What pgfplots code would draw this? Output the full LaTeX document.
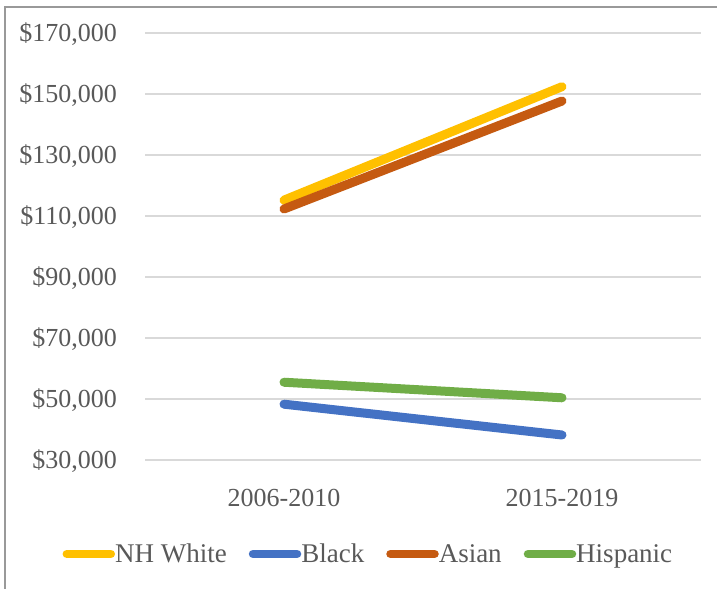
\documentclass[border=0pt]{standalone}
\usepackage{pgfplots}
\pgfplotsset{compat=1.18}
\usepackage{fontspec}
\setmainfont{Liberation Serif}
\definecolor{cw}{HTML}{FFC000}
\definecolor{cb}{HTML}{4472C4}
\definecolor{ca}{HTML}{C55A11}
\definecolor{ch}{HTML}{70AD47}
\definecolor{txt}{HTML}{595959}
\definecolor{grd}{HTML}{D9D9D9}
\begin{document}
\begin{tikzpicture}
\path[use as bounding box] (0,0) rectangle (717bp,-589bp);
\draw[color=black!40, line width=1.2bp] (5bp,-589bp) -- (5bp,-7bp) -- (717bp,-7bp);
\begin{axis}[
  at={(145bp,-460bp)}, anchor=south west,
  scale only axis, width=556bp, height=427bp,
  xmin=-0.5, xmax=1.5, ymin=30000, ymax=170000,
  axis line style={draw=none},
  ymajorgrids, grid style={color=grd, line width=1.2bp},
  major tick length=0pt,
  scaled y ticks=false,
  xtick={0,1}, xticklabels={2006-2010,2015-2019},
  ytick={30000,50000,70000,90000,110000,130000,150000,170000},
  yticklabels={{\$30,000},{\$50,000},{\$70,000},{\$90,000},{\$110,000},{\$130,000},{\$150,000},{\$170,000}},
  ticklabel style={font=\fontsize{26bp}{30bp}\selectfont, text=txt, inner sep=0pt},
  yticklabel style={anchor=base east, xshift=-28bp, yshift=-8.5bp},
  xticklabel style={anchor=base, yshift=-46.5bp},
  clip=false,
  legend columns=4,
  legend style={at={(axis description cs:0.400,-0.220)}, anchor=center, draw=none, fill=none,
    font=\fontsize{27bp}{31bp}\selectfont, text=txt,
    nodes={inner sep=0pt},
    /tikz/every odd column/.append style={column sep=0bp},
    /tikz/every even column/.append style={column sep=22bp}},
  legend image code/.code={
    \draw[#1, line width=8.5bp, line cap=round] (0bp,0bp) -- (44bp,0bp);
  },
]
\addplot[color=cw, line width=9bp, line cap=round] coordinates {(0,115200) (1,152400)};
\addlegendentry{NH White}
\addplot[color=cb, line width=9bp, line cap=round] coordinates {(0,48300) (1,38200)};
\addlegendentry{Black}
\addplot[color=ca, line width=9bp, line cap=round] coordinates {(0,112300) (1,147700)};
\addlegendentry{Asian}
\addplot[color=ch, line width=9bp, line cap=round] coordinates {(0,55500) (1,50400)};
\addlegendentry{Hispanic}
\end{axis}
\end{tikzpicture}
\end{document}
